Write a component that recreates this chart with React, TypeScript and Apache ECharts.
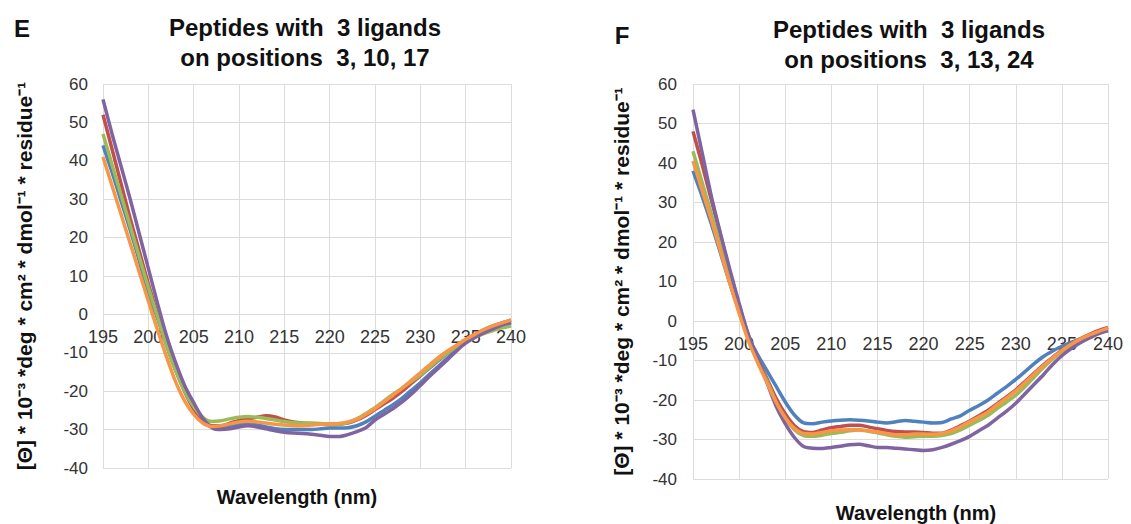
import React, { useEffect, useRef } from "react";
import * as echarts from "echarts";

const wavelengths = [195,196,197,198,199,200,201,202,203,204,205,206,207,208,209,210,211,212,213,214,215,216,217,218,219,220,221,222,223,224,225,226,227,228,229,230,231,232,233,234,235,236,237,238,239,240];

const seriesNames = ["Peptide 1", "Peptide 2", "Peptide 3", "Peptide 4", "Peptide 5"];
const colors = ["#4F81BD", "#C0504D", "#9BBB59", "#8064A2", "#F79646"];

// Panel E: positions 3, 10, 17
const eBlue = [44,37,29.5,22,14,5,-1,-8,-14.5,-20,-24.5,-27.5,-29.3,-29.5,-29,-28.6,-28.5,-28.8,-29.3,-29.8,-30,-30,-30,-30,-29.8,-29.6,-29.6,-29.5,-29,-28,-26.5,-25,-23.5,-21.8,-19.8,-17.8,-15.6,-13.5,-11.3,-9.2,-7.3,-5.8,-4.5,-3.5,-2.7,-2];
const eRed = [52,43,34,25,16.5,8,0,-7.5,-14,-20,-24.5,-27.5,-29,-29,-28.3,-27.6,-27.2,-26.8,-26.4,-26.7,-27.5,-28,-28.3,-28.5,-28.6,-28.7,-28.6,-28.3,-27.5,-26.3,-24.8,-23.3,-21.8,-20,-18,-16,-14,-12,-10,-8.2,-6.6,-5.3,-4,-3,-2.2,-1.5];
const eGreen = [47,39,31,23,15,7,-0.5,-8,-14.5,-20,-24,-26.8,-27.9,-27.7,-27.2,-26.8,-26.6,-26.8,-27.1,-27.5,-27.9,-28.2,-28.3,-28.3,-28.4,-28.6,-28.6,-28.2,-27.2,-25.8,-24.3,-22.5,-20.8,-19.2,-17.5,-15.8,-13.8,-11.8,-10,-8.5,-7.2,-6,-5,-4.2,-3.5,-3];
const ePurple = [56,47,38.5,30,21,12,3,-5.5,-12.5,-18.5,-23,-27,-29.5,-30,-29.8,-29.3,-29,-29.3,-29.8,-30.3,-30.7,-30.9,-31,-31.2,-31.5,-31.8,-31.8,-31.3,-30.5,-29.5,-27.5,-26,-24.5,-22.8,-20.8,-18.5,-16.2,-14,-11.8,-9.5,-7.5,-6,-4.8,-3.8,-2.8,-2.2];
const eOrange = [41,33.5,26,18.5,11,3.5,-4,-11,-17.5,-22.5,-26,-28.3,-29.2,-29,-28.5,-28,-27.8,-28,-28.3,-28.6,-28.8,-29,-29,-28.8,-28.6,-28.5,-28.4,-28,-27.3,-26,-24.5,-22.8,-21,-19.2,-17.2,-15.2,-13.2,-11.2,-9.5,-8,-6.5,-5.2,-4,-3,-2.2,-1.5];

// Panel F: positions 3, 13, 24
const fBlue = [38,31.5,24.5,17,9.5,2.5,-4,-8.5,-12.5,-16.5,-20.5,-23.8,-25.8,-26,-25.6,-25.3,-25.1,-25,-25.1,-25.3,-25.6,-25.8,-25.5,-25.2,-25.4,-25.6,-25.8,-25.7,-24.8,-24,-22.6,-21.4,-20,-18.3,-16.6,-14.8,-12.8,-10.8,-9,-7.6,-6.4,-5.4,-4.5,-3.7,-3,-2.3];
const fRed = [48,39.5,30.5,21.5,12.5,4,-3.5,-9.5,-14.5,-19.5,-23.5,-26.5,-28,-28.2,-27.6,-27,-26.7,-26.4,-26.4,-26.8,-27.3,-27.7,-28,-28.1,-28.1,-28.2,-28.4,-28.4,-27.6,-26.5,-25.3,-24,-22.6,-20.9,-19.2,-17.4,-15.3,-13.2,-11.1,-9.2,-7.4,-5.8,-4.5,-3.4,-2.4,-1.6];
const fGreen = [43,35,27,19,11,3,-4.5,-10,-15,-20.5,-24.5,-27.5,-29,-29.2,-28.9,-28.5,-28.2,-27.8,-27.6,-27.9,-28.3,-28.8,-29.2,-29.4,-29.3,-29.2,-29.2,-29,-28.5,-27.6,-26.4,-25.2,-23.9,-22.1,-20.5,-18.8,-16.6,-14.2,-11.8,-9.6,-7.8,-6.2,-4.9,-3.8,-2.9,-2.2];
const fPurple = [53.5,42.5,31.5,22,13,4.5,-3.5,-9.5,-15.5,-21.5,-26,-29.5,-31.8,-32.2,-32.3,-32,-31.7,-31.3,-31.2,-31.6,-32,-32,-32.2,-32.4,-32.6,-32.8,-32.6,-32,-31.2,-30.3,-29.2,-27.8,-26.4,-24.6,-22.8,-20.8,-18.4,-16,-13.6,-11,-8.8,-7,-5.5,-4.3,-3.2,-2.5];
const fOrange = [40.5,33,25.5,17.5,9.5,2,-5,-10.5,-15.5,-20.5,-24.5,-27.2,-28.5,-28.6,-28.2,-27.8,-27.6,-27.5,-27.5,-27.8,-28.1,-28.5,-28.8,-28.8,-28.6,-28.6,-28.7,-28.5,-27.8,-26.8,-25.5,-24.3,-23,-21.2,-19.5,-17.7,-15.6,-13.4,-11.3,-9.3,-7.5,-5.9,-4.6,-3.5,-2.6,-1.8];

const panelE = [eBlue, eRed, eGreen, ePurple, eOrange];
const panelF = [fBlue, fRed, fGreen, fPurple, fOrange];

const yName = "[Θ] * 10⁻³ *deg * cm² * dmol⁻¹ * residue⁻¹";
const xName = "Wavelength (nm)";
const titleE = "Peptides with  3 ligands\non positions  3, 10, 17";
const titleF = "Peptides with  3 ligands\non positions  3, 13, 24";

const Y_MIN = -40;
const Y_MAX = 60;

const FONT = "'Liberation Sans', Arial, sans-serif";
const GRID = "#dcdcdc";

const CHART_H = 524;
const grids = [
  { left: 103, right: 620, top: 84, bottom: 56 },
  { left: 693, right: 23, top: 84, bottom: 45 },
];

function makeAxes(gridIndex: number, yGap: number, yLabelMargin: number) {
  const g = grids[gridIndex];
  const gridH = CHART_H - g.top - g.bottom;
  // place the x axis (labels) on the value 0 line
  const zeroOffset = -((0 - Y_MIN) / (Y_MAX - Y_MIN)) * gridH;
  const xAxis = {
    type: "value",
    gridIndex,
    min: 195,
    max: 240,
    interval: 5,
    position: "bottom",
    offset: zeroOffset,
    axisLine: { show: false, onZero: false },
    axisTick: { show: false },
    splitLine: { show: true, lineStyle: { color: GRID, width: 1 } },
    axisLabel: { color: "#333", fontSize: 18, fontFamily: FONT, margin: 14, showMinLabel: true, showMaxLabel: true },
  };
  const yAxis = {
    type: "value",
    gridIndex,
    min: Y_MIN,
    max: Y_MAX,
    interval: 10,
    axisLine: { show: false, onZero: false },
    axisTick: { show: false },
    splitLine: { show: true, lineStyle: { color: GRID, width: 1 } },
    axisLabel: { color: "#333", fontSize: 17, fontFamily: FONT, margin: yLabelMargin },
    name: yName,
    nameLocation: "middle",
    nameRotate: 90,
    nameGap: yGap,
    nameTextStyle: { color: "#111", fontSize: 21, fontWeight: "bold", fontFamily: FONT },
  };
  return { xAxis, yAxis };
}

export default function App() {
  const ref = useRef<HTMLDivElement>(null);
  useEffect(() => {
    if (!ref.current) return;
    const chart = echarts.init(ref.current, null, { renderer: "svg" });
    const a = makeAxes(0, 68, 15);
    const b = makeAxes(1, 61, 16);
    const series: any[] = [];
    [panelE, panelF].forEach((panel, pi) => {
      panel.forEach((vals, si) => {
        series.push({
          type: "line",
          name: seriesNames[si],
          xAxisIndex: pi,
          yAxisIndex: pi,
          data: wavelengths.map((w, i) => [w, vals[i]]),
          showSymbol: false,
          smooth: 0.3,
          lineStyle: { color: colors[si], width: 3.5 },
          itemStyle: { color: colors[si] },
          z: 2 + si,
        });
      });
    });
    const titleStyle = { fontSize: 24, fontWeight: "bold", color: "#111", lineHeight: 30, fontFamily: FONT };
    chart.setOption({
      animation: false,
      backgroundColor: "#ffffff",
      textStyle: { fontFamily: FONT },
      title: [
        { text: titleE, left: 305, top: 12, padding: 0, textAlign: "center", textStyle: titleStyle },
        { text: titleF, left: 909, top: 14, padding: 0, textAlign: "center", textStyle: titleStyle },
      ],
      grid: grids,
      xAxis: [a.xAxis, b.xAxis],
      yAxis: [a.yAxis, b.yAxis],
      graphic: [
        { type: "text", x: 22, y: 28, style: { text: "E", font: `bold 24px ${FONT}`, fill: "#111", textAlign: "center", textVerticalAlign: "middle" } },
        { type: "text", x: 622, y: 35, style: { text: "F", font: `bold 24px ${FONT}`, fill: "#111", textAlign: "center", textVerticalAlign: "middle" } },
        { type: "text", x: 297, y: 497, style: { text: xName, font: `bold 20px ${FONT}`, fill: "#111", textAlign: "center", textVerticalAlign: "middle" } },
        { type: "text", x: 916, y: 513, style: { text: xName, font: `bold 20px ${FONT}`, fill: "#111", textAlign: "center", textVerticalAlign: "middle" } },
      ],
      series,
    });
    return () => chart.dispose();
  }, []);
  return <div ref={ref} style={{ position: "fixed", left: 0, top: 0, width: 1131, height: 524, background: "#fff" }} />;
}
